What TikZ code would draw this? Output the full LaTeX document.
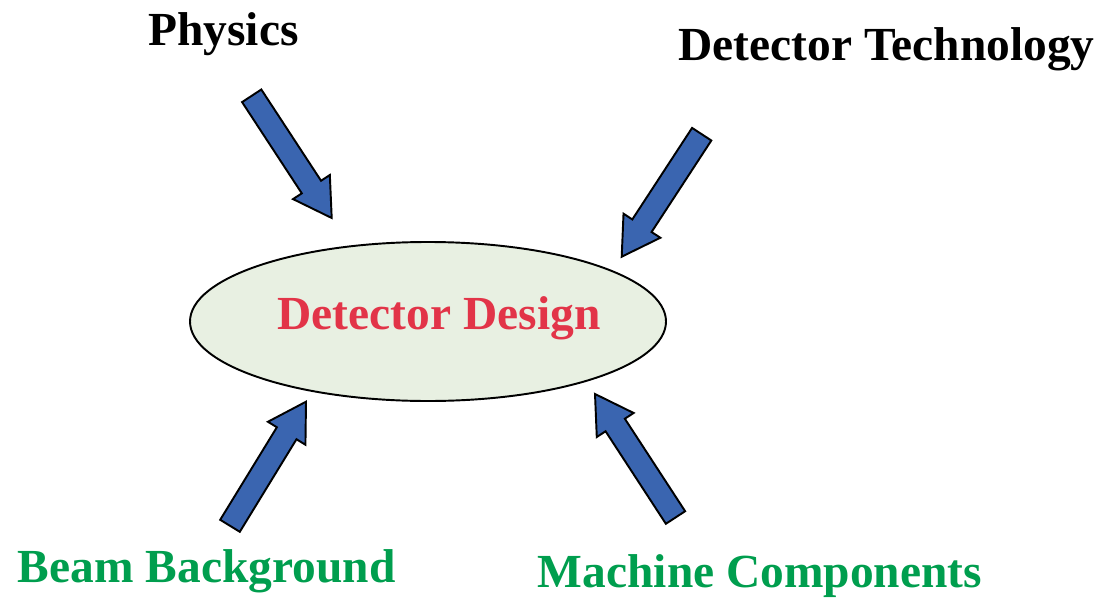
\documentclass[tikz,border=0pt]{standalone}
\usepackage{fontspec}
\setmainfont{Liberation Serif}
\usetikzlibrary{shapes.geometric,calc}

\definecolor{arrowblue}{RGB}{58,101,176}
\definecolor{hubfill}{RGB}{232,240,226}
\definecolor{designred}{RGB}{226,52,72}
\definecolor{inputgreen}{RGB}{0,158,78}

% block arrow from tail #1 to tip #2
\newcommand{\blockarrow}[2]{%
  \coordinate (hb) at ($(#2)!0.74cm!(#1)$);
  \draw[bigarrow] ($(#1)!0.23cm!90:(#2)$) -- ($(hb)!0.23cm!90:(#2)$)
    -- ($(hb)!0.44cm!90:(#2)$) -- (#2) -- ($(hb)!0.44cm!-90:(#2)$)
    -- ($(hb)!0.23cm!-90:(#2)$) -- ($(#1)!0.23cm!-90:(#2)$) -- cycle;
}

\begin{document}
\begin{tikzpicture}[scale=1,
  bigarrow/.style={draw=black, line width=1.1pt, fill=arrowblue},
  hub/.style={ellipse, draw=black, line width=1.1pt, fill=hubfill,
    minimum width=9.52cm, minimum height=3.18cm, inner sep=0pt},
  title/.style={anchor=base, inner sep=0pt,
    font=\bfseries\fontsize{27pt}{32pt}\selectfont}]

\useasboundingbox (0,0) rectangle (22.12,11.94);

% The central ellipse and its label
\node[hub] (D) at (8.56,5.51) {};
\node[title, text=designred] (Dlbl) at (8.78,5.354) {Detector Design};

% Inputs around it
\node[title] (P) at (4.47,11.02) {Physics};
\node[title] (T) at (17.73,10.72) {Detector Technology};
\node[title, text=inputgreen] (B) at (4.134,0.30) {Beam Background};
\node[title, text=inputgreen] (M) at (15.2,0.20) {Machine Components};

% Arrow ends
\coordinate (P1) at (5.034,10.024);
\coordinate (P2) at (6.634,7.58);
\coordinate (T1) at (14.034,9.256);
\coordinate (T2) at (12.434,6.806);
\coordinate (B1) at (4.6,1.424);
\coordinate (B2) at (6.12,3.906);
\coordinate (M1) at (13.51,1.59);
\coordinate (M2) at (11.9,4.06);

% Draw the block arrows
\blockarrow{P1}{P2}
\blockarrow{T1}{T2}
\blockarrow{B1}{B2}
\blockarrow{M1}{M2}

\end{tikzpicture}
\end{document}
